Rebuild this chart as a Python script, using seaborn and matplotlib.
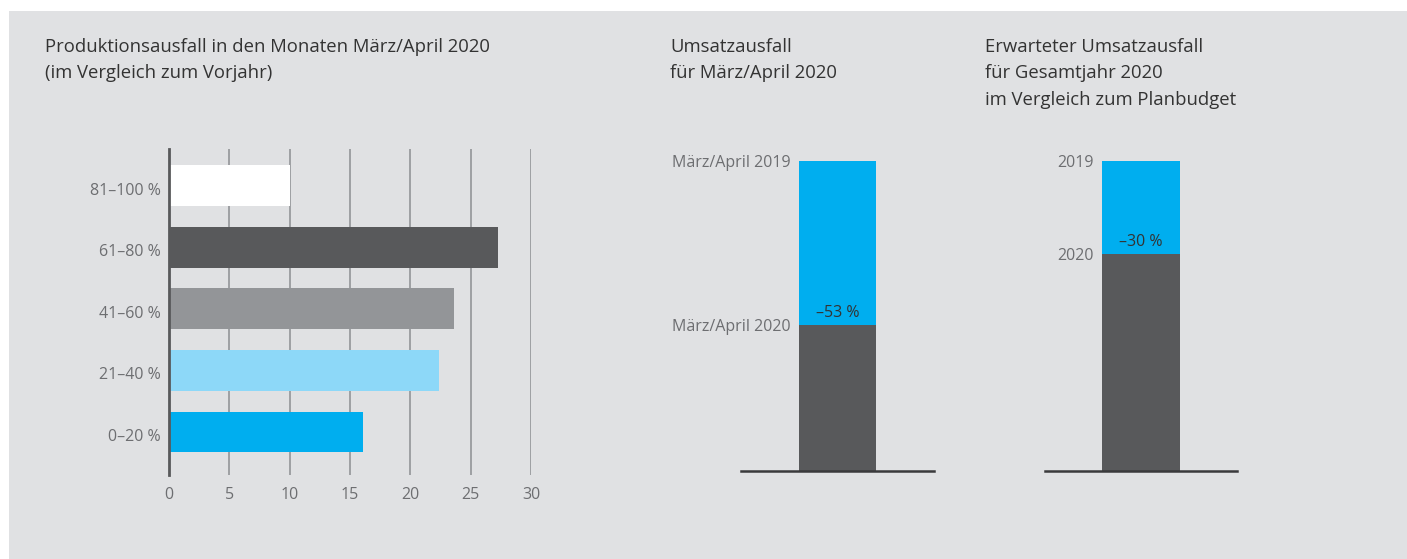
import matplotlib
matplotlib.use("Agg")
import matplotlib.pyplot as plt
from matplotlib.patches import Rectangle
from matplotlib.transforms import ScaledTranslation
import seaborn as sns

# Produktionsausfall März/April 2020 (Anteil der Unternehmen in %)
kategorien = ["81–100 %", "61–80 %", "41–60 %", "21–40 %", "0–20 %"]
anteile = [10.0, 27.3, 23.6, 22.4, 16.1]
farben_kat = ["#ffffff", "#58595b", "#939598", "#8dd8f8", "#00aeef"]
x_ticks = [0, 5, 10, 15, 20, 25, 30]

# Umsatzausfall März/April 2020 (Vorjahr = 100)
umsatz_mp = [100, 47]
labels_mp = ["März/April 2019", "März/April 2020"]
delta_mp = "–53 %"

# Erwarteter Umsatzausfall Gesamtjahr 2020 (Planbudget = 100)
umsatz_jahr = [100, 70]
labels_jahr = ["2019", "2020"]
delta_jahr = "–30 %"

titel_links = ["Produktionsausfall in den Monaten März/April 2020", "(im Vergleich zum Vorjahr)"]
titel_mitte = ["Umsatzausfall", "für März/April 2020"]
titel_rechts = ["Erwarteter Umsatzausfall", "für Gesamtjahr 2020", "im Vergleich zum Planbudget"]

BG = "#e0e1e3"
BLAU = "#00aeef"
DUNKEL = "#58595b"
GRAU_TXT = "#6d6e71"
TXT = "#333333"

sns.set_style("white")
plt.rcParams["font.family"] = ["Open Sans", "DejaVu Sans"]

W, H = 1407, 559
fig = plt.figure(figsize=(W / 100, H / 100), dpi=100)
fig.patch.set_facecolor("white")
hintergrund = Rectangle((9 / W, 0), 1 - 9 / W, 1 - 11 / H, transform=fig.transFigure,
                        facecolor=BG, edgecolor="none", zorder=-10)
fig.add_artist(hintergrund)


def px_axes(x0, x1, y_top, y_bot):
    return fig.add_axes([x0 / W, 1 - y_bot / H, (x1 - x0) / W, (y_bot - y_top) / H])


# --- linkes Diagramm ---
ax = px_axes(169, 531, 148.6, 474.6)
ax.set_facecolor("none")
sns.barplot(x=anteile, y=kategorien, hue=kategorien, palette=farben_kat, orient="h",
            width=0.66, saturation=1, linewidth=0, legend=False, ax=ax, zorder=3)
ax.set_xlim(0, 30)
ax.set_ylim(4.69, -0.6)
ax.set_xticks(x_ticks)
ax.grid(axis="x", color="#939598", linewidth=1.2, zorder=0)
ax.grid(axis="y", visible=False)
ax.set_axisbelow(True)
for s in ["top", "right", "bottom"]:
    ax.spines[s].set_visible(False)
ax.spines["left"].set_color(DUNKEL)
ax.spines["left"].set_linewidth(2)
ax.spines["left"].set_zorder(4)
ax.tick_params(axis="both", length=0, labelsize=11.5, labelcolor=GRAU_TXT)
ax.tick_params(axis="x", pad=9)
ax.tick_params(axis="y", pad=6)
ax.set_xlabel("")
ax.set_ylabel("")
# Kategorienbeschriftung sitzt etwas tiefer als die Balkenmitte
for t in ax.get_yticklabels():
    t.set_transform(t.get_transform() + ScaledTranslation(0, -3 / 100, fig.dpi_scale_trans))


# --- gestapelte Säulen ---
def saeule(ax, werte, labels, delta):
    ax.set_facecolor("none")
    sns.barplot(x=[0], y=[werte[0]], color=BLAU, saturation=1, width=0.404, linewidth=0,
                ax=ax, native_scale=True)
    sns.barplot(x=[0], y=[werte[1]], color=DUNKEL, saturation=1, width=0.404, linewidth=0,
                ax=ax, native_scale=True)
    ax.set_xlim(-0.5, 0.5)
    ax.set_ylim(0, 100)
    ax.set_xticks([])
    ax.set_yticks([])
    for s in ["top", "right", "left"]:
        ax.spines[s].set_visible(False)
    ax.spines["bottom"].set_color("#3a3a3c")
    ax.spines["bottom"].set_linewidth(1.8)
    ax.spines["bottom"].set_zorder(5)
    links = ax.patches[0].get_x()
    mitte = links + ax.patches[0].get_width() / 2
    for wert, lab in zip(werte, labels):
        ax.annotate(lab, xy=(links, wert), xytext=(-8, -2), textcoords="offset pixels",
                    ha="right", va="center", fontsize=11.5, color=GRAU_TXT, annotation_clip=False)
    ax.annotate(delta, xy=(mitte, werte[1]), xytext=(0, 12), textcoords="offset pixels",
                ha="center", va="center", fontsize=11.5, color=TXT)


ax2 = px_axes(741, 934, 161, 471)
saeule(ax2, umsatz_mp, labels_mp, delta_mp)
ax3 = px_axes(1045, 1237, 161, 471)
saeule(ax3, umsatz_jahr, labels_jahr, delta_jahr)

# --- Überschriften ---
for x0, zeilen in [(45, titel_links), (670, titel_mitte), (985, titel_rechts)]:
    for i, z in enumerate(zeilen):
        fig.text(x0 / W, 1 - (47 + 26.5 * i) / H, z, ha="left", va="center",
                 fontsize=13.3, color=TXT)

fig.savefig("out.png", dpi=100, facecolor=fig.get_facecolor())
